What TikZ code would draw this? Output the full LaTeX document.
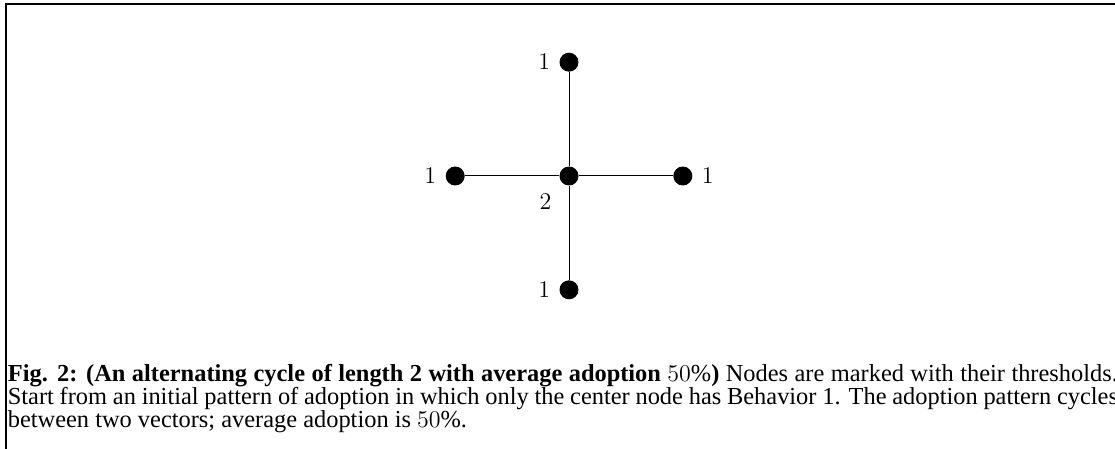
\documentclass[tikz,border=0pt]{standalone}
\usepackage{fontspec}
\setmainfont{Liberation Serif}
\usetikzlibrary{positioning}
\tikzset{
  dot/.style={circle, fill=black, inner sep=0pt, minimum size=9.5pt},
  thr/.style={font=\fontsize{12.4}{14}\selectfont},
  capt/.style={anchor=base west, inner sep=0pt, font=\fontsize{12.2}{14}\selectfont},
}
\begin{document}
\begin{tikzpicture}[label distance=1pt]
  \newcommand\X{56.9pt}
  \newcommand\W{555pt}

  \useasboundingbox (0pt,0pt) rectangle (557.5pt,-224.5pt);
  \clip (0pt,0pt) rectangle (557.5pt,-224.5pt);
  \draw[line width=1pt](3pt,-224.5pt) |- (557.5pt,-2pt);

  % star: centre and its four neighbours
  \node[dot, label={[thr, label distance=2.5pt]below left:$2$}] (c) at (5*\X, -88pt) {};
  \node[dot, on grid, above=\X of c, label={[thr]left:$1$}] (n) {};
  \node[dot, on grid, below=\X of c, label={[thr]left:$1$}] (s) {};
  \node[dot, on grid, left=\X of c, label={[thr]left:$1$}] (w) {};
  \node[dot, on grid, right=\X of c, label={[thr]right:$1$}] (e) {};

  \draw[line width=0.5pt](c)--(n);
  \draw[line width=0.5pt](c)--(s);
  \draw[line width=0.5pt](c)--(w);
  \draw[line width=0.5pt](c)--(e);

  % caption, one node per line
  \node[capt] (cap1) at (3.75pt, -190.9pt)
  {\makebox[\W][s]{\textbf{Fig. 2: (An alternating cycle of length 2 with average adoption} $50\%$\textbf{)} Nodes are marked with their thresholds.}};
  \node[capt] (cap2) at (3.75pt, -202.4pt)
  {\makebox[\W][s]{Start from an initial pattern of adoption in which only the center node has Behavior 1. The adoption pattern cycles}};
  \node[capt] (cap3) at (3.75pt, -213.9pt)
  {between two vectors; average adoption is $50\%$.};
\end{tikzpicture}
\end{document}
